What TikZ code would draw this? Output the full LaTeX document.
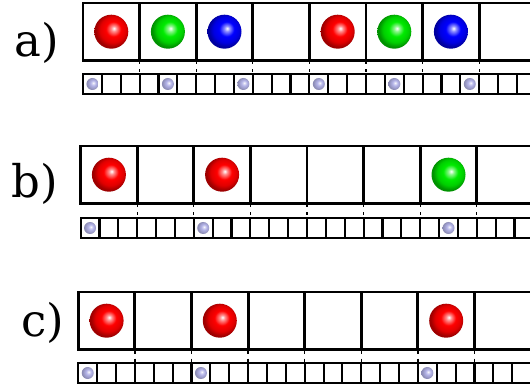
\documentclass[tikz,border=0pt]{standalone}
\usepackage{fontspec}
\setmainfont{DejaVu Serif}
\definecolor{bgreen}{RGB}{0,235,0}
\definecolor{bred}{RGB}{255,0,0}
\definecolor{bblue}{RGB}{0,0,255}
\definecolor{bsmall}{RGB}{180,180,232}
\newcommand\mkballshade[3]{%
  \pgfdeclareradialshading{#1}{\pgfpoint{4bp}{5bp}}{%
    color(0bp)=(white); color(4bp)=(#2!45!white); color(11bp)=(#2);
    color(19bp)=(#2!88!black); color(25bp)=(#2!#3!black); color(50bp)=(#2!#3!black)}}
\mkballshade{shred}{bred}{62}
\mkballshade{shgreen}{bgreen}{62}
\mkballshade{shblue}{bblue}{62}
\mkballshade{shsmall}{bsmall}{78}
\begin{document}
\begin{tikzpicture}[x=1pt,y=-1pt,
  bigbox/.style={line width=2.9pt, line join=miter},
  smallbox/.style={line width=2.1pt},
  tickline/.style={line width=1.3pt, dash pattern=on 3pt off 5pt},
  lbl/.style={anchor=base west, font=\fontsize{45}{45}\selectfont},
  bigball/.style={shading=#1},
  smallball/.style={shading=shsmall}]
\fill[white] (0,0) rectangle (530,387);
\clip (0,0) rectangle (530,387);
\def\W{56.6}
% rowdiag: x0, top, strip top, big balls, small balls
\newcommand\rowdiag[5]{%
  \foreach \j in {0,...,23}
    \draw[smallbox] ({#1+\j*\W/3},#3) rectangle ++(\W/3,20);
  \foreach \i in {1,...,7}
    \draw[tickline] ({#1+\i*\W},{#2+58.5}) -- ({#1+\i*\W},#3);
  \foreach \i in {0,...,7}
    \draw[bigbox] ({#1+\i*\W},#2) rectangle ++(\W,57.5);
  \foreach \i/\c in {#4}
    \shade[bigball=\c] ({#1+(\i+0.5)*\W},{#2+28.7}) circle[radius=17pt];
  \foreach \j in {#5}
    \shade[smallball] ({#1+(\j+0.5)*\W/3},{#3+10}) circle[radius=6pt];
}
\rowdiag{83}{3}{74}{0/shred,1/shgreen,2/shblue,4/shred,5/shgreen,6/shblue}{0,4,8,12,16,20}
\rowdiag{80.6}{146}{218}{0/shred,2/shred,6/shgreen}{0,6,19}
\rowdiag{78.3}{292}{363}{0/shred,2/shred,6/shred}{0,6,18}
\node[lbl] (la) at (11,57) {a)};
\node[lbl] (lb) at (8,198) {b)};
\node[lbl] (lc) at (18,337) {c)};
\end{tikzpicture}
\end{document}
